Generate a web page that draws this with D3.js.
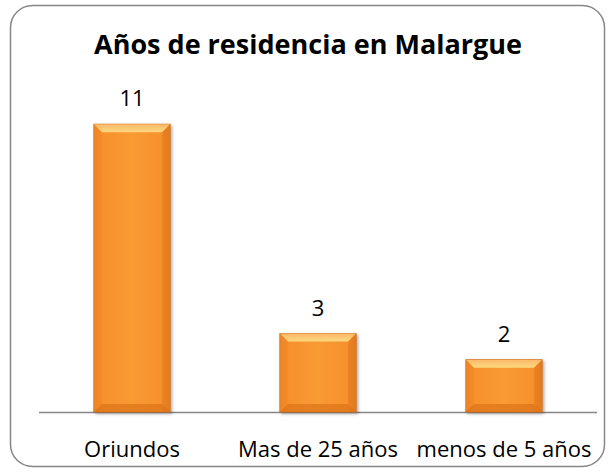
<!DOCTYPE html>
<html>
<head>
<meta charset="utf-8">
<script src="https://cdn.jsdelivr.net/npm/d3@7"></script>
<style>
  body { margin: 0; background: #fff; }
  text { font-family: "Open Sans", Lato, sans-serif; }
</style>
</head>
<body>
<svg id="chart" width="614" height="476"></svg>
<script>
const title = "Años de residencia en Malargue";
const categories = ["Oriundos", "Mas de 25 años", "menos de 5 años"];
const values = [11, 3, 2];

const svg = d3.select("#chart");
const W = 614, H = 476;
const plot = { left: 39, right: 597, top: 98, bottom: 412 };

// frame
svg.append("rect")
    .attr("x", 10.5).attr("y", 5.5)
    .attr("width", 594).attr("height", 461)
    .attr("rx", 22).attr("ry", 22)
    .attr("fill", "#fff")
    .attr("stroke", "#868686")
    .attr("stroke-width", 1.5);

svg.append("text")
    .attr("x", W / 2 + 1).attr("y", 54)
    .attr("text-anchor", "middle")
    .attr("font-weight", "bold")
    .attr("font-size", 27)
    .attr("fill", "#000")
    .text(title);

let x = d3.scaleBand().domain(categories).range([plot.left, plot.right]).paddingInner(0.59).paddingOuter(0.295);
let y = d3.scaleLinear().domain([0, 12]).range([plot.bottom, plot.top]);

let defs = svg.append("defs");
let grad = defs.append("linearGradient").attr("id", "barGrad").attr("x1", 0).attr("x2", 1).attr("y1", 0).attr("y2", 0);
grad.append("stop").attr("offset", "0%").attr("stop-color", "#e67f1f");
grad.append("stop").attr("offset", "12%").attr("stop-color", "#f7912c");
grad.append("stop").attr("offset", "50%").attr("stop-color", "#f99a33");
grad.append("stop").attr("offset", "88%").attr("stop-color", "#f7912c");
grad.append("stop").attr("offset", "100%").attr("stop-color", "#e0781c");

let topGrad = defs.append("linearGradient").attr("id", "topGrad").attr("x1", 0).attr("x2", 0).attr("y1", 0).attr("y2", 1);
topGrad.append("stop").attr("offset", "0%").attr("stop-color", "#fcb867");
topGrad.append("stop").attr("offset", "100%").attr("stop-color", "#fcd87f");

let shadow = defs.append("filter").attr("id", "shadow").attr("x", "-20%").attr("y", "-20%").attr("width", "140%").attr("height", "140%");
shadow.append("feDropShadow").attr("dx", 1.5).attr("dy", 1.5).attr("stdDeviation", 1.5).attr("flood-color", "#000").attr("flood-opacity", 0.35);

// axis line
svg.append("line")
    .attr("x1", plot.left).attr("x2", plot.right)
    .attr("y1", plot.bottom + 0.5).attr("y2", plot.bottom + 0.5)
    .attr("stroke", "#868686").attr("stroke-width", 1.5);

let data = categories.map((c, i) => ({ cat: c, value: values[i] }));
let bev = 8;

let bars = svg.selectAll("g.bar").data(data).enter().append("g").attr("class", "bar");

bars.append("rect")
    .attr("x", d => x(d.cat))
    .attr("y", d => y(d.value))
    .attr("width", x.bandwidth())
    .attr("height", d => y(0) - y(d.value))
    .attr("fill", "url(#barGrad)")
    .attr("stroke", "#c96a18")
    .attr("stroke-width", 0.8)
    .attr("filter", "url(#shadow)");

// top bevel
bars.append("path")
    .attr("d", d => {
        let x0 = x(d.cat), x1 = x0 + x.bandwidth(), y0 = y(d.value);
        return `M${x0},${y0}L${x1},${y0}L${x1 - bev},${y0 + bev}L${x0 + bev},${y0 + bev}Z`;
    })
    .attr("fill", "url(#topGrad)");

// side bevels
bars.append("path")
    .attr("d", d => {
        let x0 = x(d.cat), y0 = y(d.value), y1 = y(0);
        return `M${x0},${y0}L${x0 + bev},${y0 + bev}L${x0 + bev},${y1 - bev}L${x0},${y1}Z`;
    })
    .attr("fill", "#f4892a").attr("opacity", 0.6);
bars.append("path")
    .attr("d", d => {
        let x1 = x(d.cat) + x.bandwidth(), y0 = y(d.value), y1 = y(0);
        return `M${x1},${y0}L${x1 - bev},${y0 + bev}L${x1 - bev},${y1 - bev}L${x1},${y1}Z`;
    })
    .attr("fill", "#e47c1f").attr("opacity", 0.6);
// bottom bevel
bars.append("path")
    .attr("d", d => {
        let x0 = x(d.cat), x1 = x0 + x.bandwidth(), y1 = y(0);
        return `M${x0},${y1}L${x1},${y1}L${x1 - bev},${y1 - bev}L${x0 + bev},${y1 - bev}Z`;
    })
    .attr("fill", "#dc7418").attr("opacity", 0.7);

// value labels
bars.append("text")
    .attr("x", d => x(d.cat) + x.bandwidth() / 2)
    .attr("y", d => y(d.value) - 18)
    .attr("text-anchor", "middle")
    .attr("font-size", 22)
    .attr("fill", "#000")
    .text(d => d.value);

// category labels
svg.selectAll("text.cat").data(categories).enter().append("text")
    .attr("class", "cat")
    .attr("x", d => x(d) + x.bandwidth() / 2)
    .attr("y", 457)
    .attr("text-anchor", "middle")
    .attr("font-size", 22)
    .attr("fill", "#000")
    .text(d => d);
</script>
</body>
</html>
